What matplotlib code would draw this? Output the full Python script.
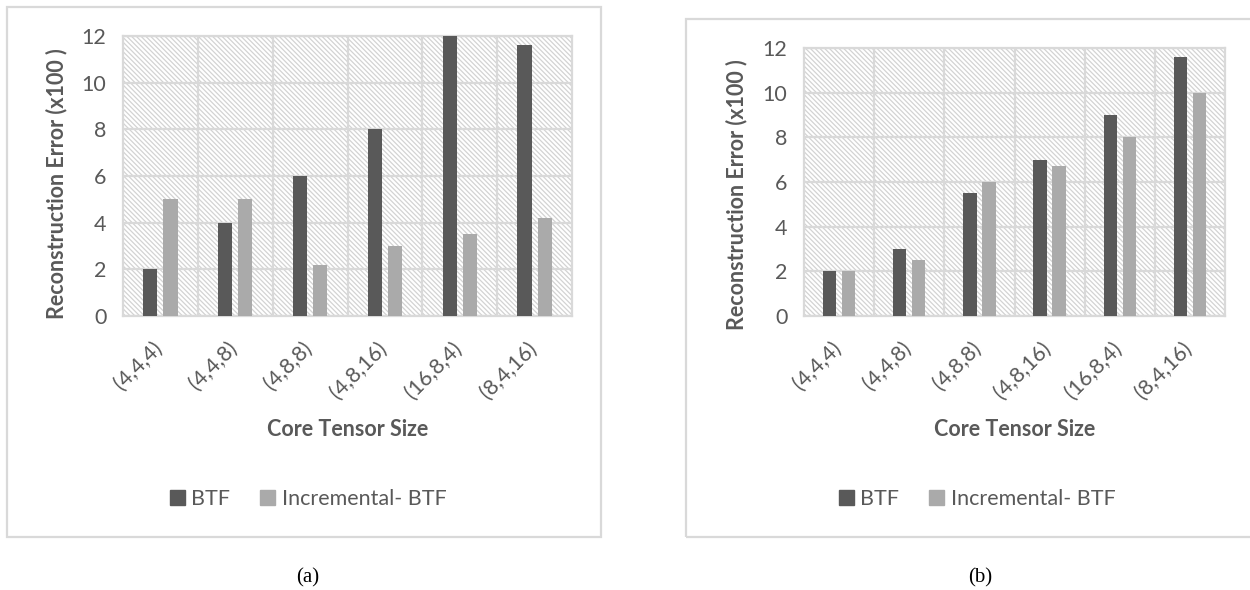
import numpy as np
import matplotlib
matplotlib.use("Agg")
import matplotlib.pyplot as plt
from matplotlib.patches import Rectangle, Patch

# data
categories = ["(4,4,4)", "(4,4,8)", "(4,8,8)", "(4,8,16)", "(16,8,4)", "(8,4,16)"]
btf_a = [2, 4, 6, 8, 12, 11.6]
inc_a = [5, 5, 2.2, 3, 3.5, 4.2]
btf_b = [2, 3, 5.5, 7, 9, 11.6]
inc_b = [2, 2.5, 6, 6.7, 8, 10]
series_names = ["BTF", "Incremental- BTF"]
y_ticks = [0, 2, 4, 6, 8, 10, 12]

W, H = 1250, 590
DARK = "#595959"
LIGHT = "#aaaaaa"
GRID = "#d9d9d9"
TXT = "#595959"
FS = 15.5

plt.rcParams["font.family"] = ["Lato", "DejaVu Sans"]
plt.rcParams["hatch.linewidth"] = 0.9

fig = plt.figure(figsize=(W / 100, H / 100), dpi=100)


def fx(px):
    return px / W


def fy(py):
    return 1 - py / H


def panel(x0, x1, top, btf, inc, box, legend_x, caption, caption_x, ylab_x, ylab_y):
    bottom = 316
    ax = fig.add_axes([fx(x0), fy(bottom), fx(x1 - x0), (bottom - top) / H])
    # outer chart border
    bx0, by0, bx1, by1 = box
    fig.patches.append(Rectangle((fx(bx0), fy(by1)), fx(bx1 - bx0), (by1 - by0) / H,
                                 transform=fig.transFigure, fill=False,
                                 edgecolor=GRID, linewidth=1.6, clip_on=False))
    # hatched plot area
    ax.add_patch(Rectangle((0, 0), 1, 1, transform=ax.transAxes, facecolor="white",
                           edgecolor="#d3d3d3", hatch="\\" * 7, linewidth=0, zorder=0.1))
    x = np.arange(len(categories))
    w = 0.19
    ax.bar(x - 0.135, btf, w, color=DARK, zorder=3)
    ax.bar(x + 0.135, inc, w, color=LIGHT, zorder=3)
    ax.set_xlim(-0.5, len(categories) - 0.5)
    ax.set_ylim(0, 12)
    ax.set_yticks(y_ticks)
    # ticks are invisible, nudge them so the rotated labels end just right of centre
    ax.set_xticks(x + 0.08, categories, rotation=45, ha="right")
    ax.set_xticks(np.arange(len(categories) - 1) + 0.5, minor=True)
    ax.set_axisbelow(True)
    ax.grid(axis="y", color=GRID, linewidth=1.6)
    ax.grid(axis="x", which="minor", color=GRID, linewidth=1.6)
    ax.tick_params(axis="both", which="both", length=0, labelsize=FS, colors=TXT)
    ax.tick_params(axis="y", pad=12)
    ax.tick_params(axis="x", pad=16)
    for s in ax.spines.values():
        s.set_color(GRID)
        s.set_linewidth(1.6)
    ax.set_ylabel("Reconstruction Error (x100 )", fontsize=FS, fontweight="bold", color=TXT,
                  va="center")
    ax.yaxis.set_label_coords((ylab_x - x0) / (x1 - x0), (bottom - ylab_y) / (bottom - top))
    ax.set_xlabel("Core Tensor Size", fontsize=FS, fontweight="bold", color=TXT, va="center")
    ax.xaxis.set_label_coords(0.5, (bottom - 430) / (bottom - top))
    handles = [Patch(color=DARK), Patch(color=LIGHT)]
    fig.legend(handles, series_names, loc="center", bbox_to_anchor=(fx(legend_x), fy(499)),
               ncol=2, frameon=False, fontsize=FS, labelcolor=TXT,
               handlelength=0.7, handleheight=0.7, handletextpad=0.3, columnspacing=1.4)
    fig.text(fx(caption_x), fy(578), caption, ha="center", va="center",
             family="Liberation Serif", fontsize=15, color="black")
    return ax


panel(123, 572, 36, btf_a, inc_a, (7, 7, 601, 537), 308, "(a)", 308, 57, 184)
panel(804, 1225, 48, btf_b, inc_b, (686, 19, 1264, 537), 977, "(b)", 980, 737, 195)

fig.savefig("out.png", dpi=100)
